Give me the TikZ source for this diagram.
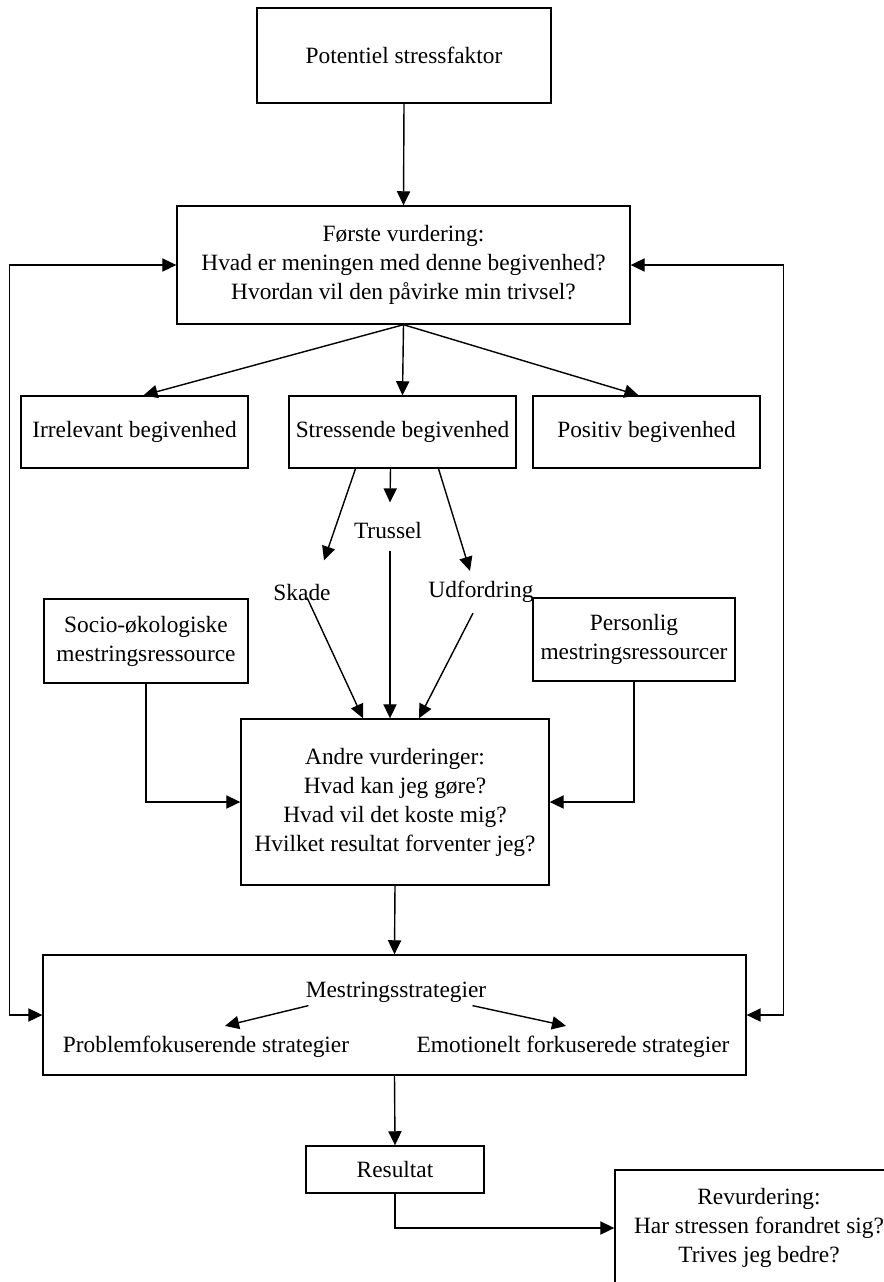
\documentclass[tikz,border=0pt]{standalone}
\usepackage{fontspec}
\setmainfont{Liberation Serif}
\usetikzlibrary{calc,arrows.meta}

\begin{document}
\begin{tikzpicture}[x=0.02cm, y=-0.02cm,
  font=\fontsize{13.3}{16.5}\selectfont,
  boks/.style={draw, line width=0.8pt, align=center, inner sep=0pt},
  txt/.style={inner sep=0pt},
  pil/.style={line width=0.8pt, -{Triangle[length=8pt,width=7.5pt]}},
  pil2/.style={line width=0.8pt, {Triangle[length=8pt,width=7.5pt]}-{Triangle[length=8pt,width=7.5pt]}}]
\useasboundingbox (0,0) rectangle (883,1282);

\node[boks, minimum width=5.88cm, minimum height=1.9cm] (T) at (404,55.5) {Potentiel stressfaktor};
\node[boks, minimum width=9.06cm, minimum height=2.36cm] (V) at (403.5,265) {Første vurdering:\\ Hvad er meningen med denne begivenhed?\\ Hvordan vil den påvirke min trivsel?};
\node[boks, minimum width=4.54cm, minimum height=1.44cm] (I) at (134.5,432) {Irrelevant begivenhed};
\node[boks, minimum width=4.54cm, minimum height=1.44cm] (S) at (402.5,432) {Stressende begivenhed};
\node[boks, minimum width=4.54cm, minimum height=1.44cm] (P) at (646.5,432) {Positiv begivenhed};
\node[txt] (Tr) at (388,530) {Trussel};
\node[txt] (Sk) at (302,592) {Skade};
\node[txt] (U) at (481,592) {Udfordring};
\node[boks, minimum width=4.08cm, minimum height=1.68cm] (SO) at (146,641) {Socio-økologiske\\ mestringsressource};
\node[boks, minimum width=4.04cm, minimum height=1.66cm] (PM) at (634,639.5) {Personlig\\ mestringsressourcer};
\node[boks, minimum width=6.16cm, minimum height=3.32cm] (A) at (395,802) {Andre vurderinger:\\ Hvad kan jeg gøre?\\ Hvad vil det koste mig?\\ Hvilket resultat forventer jeg?};
\node[boks, minimum width=14.06cm, minimum height=2.4cm] (M) at (394.5,1015) {};
\node[txt] (MS) at (396,992) {Mestringsstrategier};
\node[txt] (PF) at (206,1047) {Problemfokuserende strategier};
\node[txt] (EF) at (573,1047) {Emotionelt forkuserede strategier};
\node[boks, minimum width=3.56cm, minimum height=0.94cm] (R) at (395,1169.5) {Resultat};
\node[boks, minimum width=5.76cm, minimum height=2.32cm] (RV) at (759,1228) {Revurdering:\\ Har stressen forandret sig?\\ Trives jeg bedre?};

\draw[pil] (T.south) -- (V.north);
\draw[pil] (V.south) -- ($(I.north)+(9,0)$);
\draw[pil] (V.south) -- (S.north);
\draw[pil] (V.south) -- ($(P.north)+(-8,0)$);

\draw[pil] ($(S.south)+(-47,0)$) -- ($(Sk.north)+(22,-23)$);
\draw[pil] ($(S.south)+(-12,0)$) -- ($(Tr.north)+(2,-19)$);
\draw[pil] ($(S.south)+(36,0)$) -- ($(U.north)+(-11,-10)$);
\draw[pil] ($(Sk.south)+(5,-3)$) -- ($(A.north)+(-32,0)$);
\draw[pil] ($(Tr.south)+(2,12)$) -- ($(A.north)+(-5,0)$);
\draw[pil] ($(U.south)+(-8,10)$) -- ($(A.north)+(24,0)$);

\draw[pil] (SO.south) |- (A.west);
\draw[pil] (PM.south) |- (A.east);
\draw[pil] (A.south) -- (M.north);

\draw[pil2] (V.west) -| ($(M.west)+(-33,0)$) -- (M.west);
\draw[pil2] (V.east) -| ($(M.east)+(37,0)$) -- (M.east);

\draw[pil] ($(MS.south west)+(3,3)$) -- ($(PF.north)+(19,-10)$);
\draw[pil] ($(MS.south east)+(-14,3)$) -- ($(EF.north)+(-7,-10)$);

\draw[pil] (M.south) -- (R.north);
\draw[pil] (R.south) |- (RV.west);

\end{tikzpicture}
\end{document}
